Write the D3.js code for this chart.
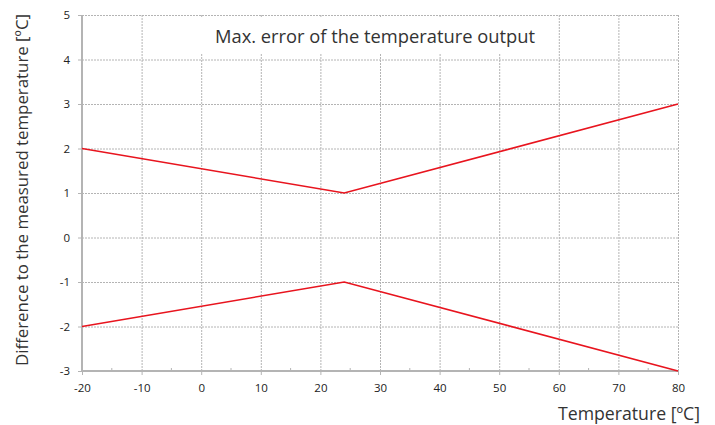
<!DOCTYPE html>
<html>
<head>
<meta charset="utf-8">
<script src="https://cdn.jsdelivr.net/npm/d3@7"></script>
<style>
  body { margin: 0; background: #fff; }
  svg { font-family: "Open Sans", sans-serif; }
</style>
</head>
<body>
<svg></svg>
<script>
var WIDTH = 715;
var HEIGHT = 425;

// data
var temps = [-20, 24, 80];
var upperErr = [2, 1, 3];
var lowerErr = [-2, -1, -3];
var xTicks = [-20, -10, 0, 10, 20, 30, 40, 50, 60, 70, 80];
var yTicks = [-3, -2, -1, 0, 1, 2, 3, 4, 5];

var svg = d3.select('svg')
  .attr('width', WIDTH)
  .attr('height', HEIGHT);

var xScale = d3.scaleLinear().domain([-20, 80]).range([82, 678]);
var yScale = d3.scaleLinear().domain([-3, 5]).range([371, 15]);

// grid
svg.append('g').selectAll('line.h')
  .data(yTicks.filter(function(d){ return d !== -3; }))
  .enter().append('line')
  .attr('x1', xScale(-20)).attr('x2', xScale(80))
  .attr('y1', function(d){ return yScale(d) + 0.5; })
  .attr('y2', function(d){ return yScale(d) + 0.5; })
  .attr('stroke', '#b4b4b4')
  .attr('stroke-dasharray', '2,1');

svg.append('g').selectAll('line.v')
  .data(xTicks.filter(function(d){ return d !== -20; }))
  .enter().append('line')
  .attr('x1', function(d){ return xScale(d) + 0.5; })
  .attr('x2', function(d){ return xScale(d) + 0.5; })
  .attr('y1', yScale(5)).attr('y2', yScale(-3))
  .attr('stroke', '#b4b4b4')
  .attr('stroke-dasharray', '2,1');

// title box
svg.append('rect')
  .attr('x', 196).attr('y', 17)
  .attr('width', 360).attr('height', 36)
  .attr('fill', '#fff');

svg.append('text')
  .attr('x', 375).attr('y', 43)
  .attr('text-anchor', 'middle')
  .attr('font-size', 18)
  .attr('fill', '#333')
  .attr('textLength', 320)
  .attr('lengthAdjust', 'spacingAndGlyphs')
  .text('Max. error of the temperature output');

// axes
var fmt = function(d){ return String(d); };
var leftAxis = d3.axisLeft(yScale).tickValues(yTicks).tickSize(4).tickPadding(8).tickFormat(fmt);
var gy = svg.append('g')
  .attr('transform', 'translate(' + xScale(-20) + ',0)')
  .call(leftAxis);

var botAxis = d3.axisBottom(xScale).tickValues(xTicks).tickSize(4).tickPadding(9).tickFormat(fmt);
var gx = svg.append('g')
  .attr('transform', 'translate(0,' + yScale(-3) + ')')
  .call(botAxis);

// minor ticks
svg.append('g').selectAll('line')
  .data(d3.range(-15, 80, 10))
  .enter().append('line')
  .attr('x1', function(d){ return xScale(d); })
  .attr('x2', function(d){ return xScale(d); })
  .attr('y1', yScale(-3) - 3).attr('y2', yScale(-3))
  .attr('stroke', '#b4b4b4');

[gx, gy].forEach(function(g){
  g.select('.domain').attr('stroke', '#b4b4b4').attr('stroke-width', 2);
  g.selectAll('.tick line').attr('stroke', '#b4b4b4');
  g.selectAll('.tick text').attr('font-size', 11.5).attr('fill', '#222')
    .attr('font-family', '"Open Sans", sans-serif');
});
gy.select('.domain').attr('d', 'M0,' + yScale(5) + 'V' + yScale(-3));
gx.select('.domain').attr('d', 'M' + xScale(-20) + ',0H' + xScale(80));

// lines
var line = d3.line()
  .x(function(d){ return xScale(d[0]); })
  .y(function(d){ return yScale(d[1]); });

[upperErr, lowerErr].forEach(function(s){
  svg.append('path')
    .datum(d3.zip(temps, s))
    .attr('d', line)
    .attr('fill', 'none')
    .attr('stroke', '#e8141e')
    .attr('stroke-width', 1.6);
});

// axis labels
svg.append('text')
  .attr('transform', 'translate(28,' + 190 + ') rotate(-90)')
  .attr('text-anchor', 'middle')
  .attr('font-size', 16)
  .attr('fill', '#333')
  .attr('textLength', 352)
  .attr('lengthAdjust', 'spacingAndGlyphs')
  .text('Difference to the measured temperature [ºC]');

svg.append('text')
  .attr('x', 700).attr('y', 420)
  .attr('text-anchor', 'end')
  .attr('font-size', 18)
  .attr('fill', '#333')
  .attr('textLength', 142)
  .attr('lengthAdjust', 'spacingAndGlyphs')
  .text('Temperature [ºC]');
</script>
</body>
</html>
